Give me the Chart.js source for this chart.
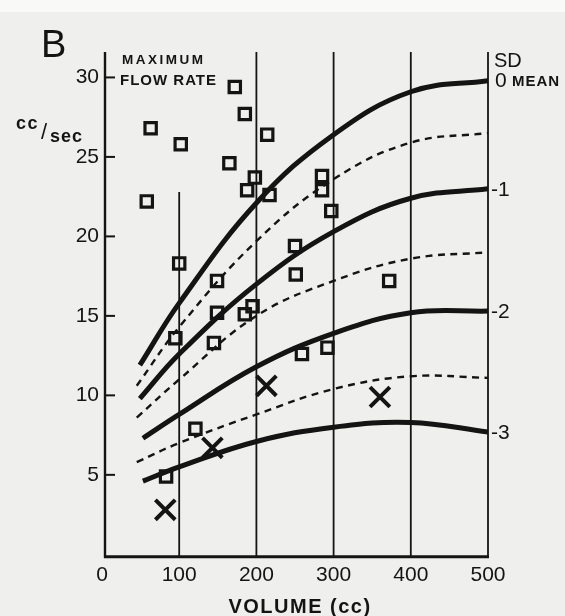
<!DOCTYPE html>
<html>
<head>
<meta charset="utf-8">
<title>Maximum flow rate</title>
<script src="https://cdn.jsdelivr.net/npm/chart.js@4.4.1/dist/chart.umd.min.js"></script>
<style>
  html, body { margin: 0; padding: 0; overflow: hidden; }
  body { background: linear-gradient(#f9f9f8 0, #f9f9f8 12px, #efefed 12px); }
  #wrap { position: relative; width: 565px; height: 616px; }
</style>
</head>
<body>
<div id="wrap"><canvas id="flow"></canvas></div>
<script>
'use strict';

// axes
var xTicks = [0, 100, 200, 300, 400, 500];
var yTicks = [5, 10, 15, 20, 25, 30];
var gridX = [100, 200, 300, 400, 500];
var gridTop = [22.8, 31.6, 31.6, 31.6, 31.6];

// normal curves (SD bands)
var meanX = [49, 100, 200, 300, 400, 500];
var meanY = [11.9, 15.8, 22.1, 26.4, 29.1, 29.8];
var sdHalfX = [45, 100, 200, 300, 400, 500];
var sdHalfY = [10.6, 14.3, 19.7, 23.6, 25.9, 26.5];
var sd1X = [49, 100, 200, 300, 400, 500];
var sd1Y = [9.8, 12.6, 17.0, 20.3, 22.4, 23.0];
var sd15X = [45, 100, 200, 300, 400, 500];
var sd15Y = [8.6, 11.0, 15.0, 17.2, 18.6, 19.0];
var sd2X = [53, 100, 200, 300, 400, 500];
var sd2Y = [7.3, 8.8, 11.8, 13.9, 15.2, 15.3];
var sd25X = [45, 100, 200, 300, 400, 500];
var sd25Y = [5.8, 7.0, 8.8, 10.4, 11.2, 11.1];
var sd3X = [53, 100, 200, 300, 400, 500];
var sd3Y = [4.6, 5.5, 7.1, 8.0, 8.3, 7.7];

// patients
var squareX = [58, 63, 102, 172, 185, 165, 198, 188, 214, 217, 100, 149, 149, 185, 195, 95, 145, 121, 83, 250, 251, 259, 292, 285, 285, 297, 372];
var squareY = [22.2, 26.8, 25.8, 29.4, 27.7, 24.6, 23.7, 22.9, 26.4, 22.6, 18.3, 17.2, 15.2, 15.1, 15.6, 13.6, 13.3, 7.9, 4.9, 19.4, 17.6, 12.6, 13.0, 23.8, 22.9, 21.6, 17.2];
var crossX = [82, 143, 213, 360];
var crossY = [2.8, 6.7, 10.6, 9.9];

var sdLabels = ['-1', '-2', '-3'];

var INK = '#141414';
var FONT = "'Liberation Sans', Arial, sans-serif";

function pts(xs, ys) {
    return xs.map(function(x, i) { return { x: x, y: ys[i] }; });
}

function curve(xs, ys, dashed) {
    return {
        data: pts(xs, ys),
        showLine: true,
        borderColor: INK,
        borderWidth: dashed ? 2.4 : 5,
        borderDash: dashed ? [7, 5.5] : [],
        borderCapStyle: 'butt',
        tension: 0.4,
        pointRadius: 0,
        fill: false
    };
}

var decor = {
    id: 'decor',
    beforeDatasetsDraw: function(chart) {
        var ctx = chart.ctx;
        var xs = chart.scales.x, ys = chart.scales.y;
        var y0 = ys.getPixelForValue(0) + 2.5;
        var yTop = chart.chartArea.top;
        var xAxis = xs.getPixelForValue(0) + 3;
        ctx.save();
        ctx.strokeStyle = INK;
        ctx.lineCap = 'butt';

        // vertical lines
        ctx.lineWidth = 1.8;
        gridX.forEach(function(v, i) {
            var px = xs.getPixelForValue(v);
            ctx.beginPath();
            ctx.moveTo(px, y0);
            ctx.lineTo(px, ys.getPixelForValue(gridTop[i]));
            ctx.stroke();
        });

        // left axis
        ctx.lineWidth = 2.4;
        ctx.beginPath();
        ctx.moveTo(xAxis, y0 + 1);
        ctx.lineTo(xAxis, yTop);
        ctx.stroke();

        // bottom axis
        ctx.lineWidth = 3;
        ctx.beginPath();
        ctx.moveTo(xAxis - 1, y0);
        ctx.lineTo(xs.getPixelForValue(500) + 1, y0);
        ctx.stroke();

        // inward ticks
        ctx.lineWidth = 2;
        yTicks.forEach(function(v) {
            var py = ys.getPixelForValue(v);
            ctx.beginPath();
            ctx.moveTo(xAxis, py);
            ctx.lineTo(xAxis + 10, py);
            ctx.stroke();
        });
        ctx.restore();
    },
    afterDraw: function(chart) {
        var ctx = chart.ctx;
        var ys = chart.scales.y;
        var right = chart.chartArea.right;
        ctx.save();
        ctx.fillStyle = INK;
        ctx.textBaseline = 'alphabetic';
        ctx.textAlign = 'left';

        ctx.font = '38px ' + FONT;
        ctx.fillText('B', 41, 57);

        ctx.font = 'bold 13.5px ' + FONT;
        ctx.letterSpacing = '2.5px';
        ctx.fillText('MAXIMUM', 122, 64);
        ctx.letterSpacing = '1px';
        ctx.font = 'bold 15px ' + FONT;
        ctx.fillText('FLOW RATE', 120, 85);

        // y unit
        ctx.letterSpacing = '1.5px';
        ctx.font = 'bold 18px ' + FONT;
        ctx.fillText('cc', 16, 129);
        ctx.letterSpacing = '0px';
        ctx.font = '22px ' + FONT;
        ctx.fillText('/', 41, 139);
        ctx.letterSpacing = '1px';
        ctx.font = 'bold 18px ' + FONT;
        ctx.fillText('sec', 50, 142);

        // x title
        ctx.font = 'bold 20px ' + FONT;
        ctx.letterSpacing = '1.5px';
        ctx.textAlign = 'center';
        ctx.fillText('VOLUME (cc)', 300, 613);

        // SD labels at the right end of the solid curves
        ctx.textAlign = 'left';
        ctx.letterSpacing = '0px';
        ctx.font = '20px ' + FONT;
        ctx.fillText('SD', 494, 67);
        ctx.textBaseline = 'middle';
        var yMean = ys.getPixelForValue(meanY[meanY.length - 1]);
        ctx.font = '21px ' + FONT;
        ctx.fillText('0', 495, yMean + 1);
        ctx.font = 'bold 15px ' + FONT;
        ctx.letterSpacing = '1px';
        ctx.fillText('MEAN', 512, yMean + 1);
        ctx.letterSpacing = '0px';
        ctx.font = '21px ' + FONT;
        [sd1Y, sd2Y, sd3Y].forEach(function(arr, i) {
            ctx.fillText(sdLabels[i], right + 3, ys.getPixelForValue(arr[arr.length - 1]) + 1);
        });
        ctx.restore();
    }
};

var chart = new Chart(document.getElementById('flow').getContext('2d'), {
    type: 'scatter',
    data: {
        datasets: [
            {
                data: pts(squareX, squareY),
                pointStyle: 'rect',
                pointRadius: 8,
                borderWidth: 3.2,
                borderColor: INK,
                backgroundColor: 'rgba(0,0,0,0)'
            },
            {
                data: pts(crossX, crossY),
                pointStyle: 'crossRot',
                pointRadius: 14,
                borderWidth: 4,
                borderColor: INK
            },
            curve(meanX, meanY, false),
            curve(sdHalfX, sdHalfY, true),
            curve(sd1X, sd1Y, false),
            curve(sd15X, sd15Y, true),
            curve(sd2X, sd2Y, false),
            curve(sd25X, sd25Y, true),
            curve(sd3X, sd3Y, false)
        ]
    },
    options: {
        responsive: true,
        maintainAspectRatio: false,
        animation: false,
        events: [],
        layout: { padding: { left: 0, right: 77, top: 52, bottom: 18.5 } },
        plugins: {
            legend: { display: false },
            tooltip: { enabled: false }
        },
        scales: {
            x: {
                type: 'linear',
                min: 0,
                max: 500,
                afterFit: function(s) { s.height = 40; },
                afterBuildTicks: function(s) { s.ticks = xTicks.map(function(v) { return { value: v }; }); },
                grid: { display: false, drawTicks: false },
                border: { display: false },
                ticks: { color: INK, padding: 5, font: { family: FONT, size: 21 } }
            },
            y: {
                type: 'linear',
                min: -0.2,
                max: 31.6,
                afterFit: function(s) { s.width = 102; },
                afterBuildTicks: function(s) { s.ticks = yTicks.map(function(v) { return { value: v }; }); },
                grid: { display: false, drawTicks: false },
                border: { display: false },
                ticks: { color: INK, padding: 3, font: { family: FONT, size: 21 } }
            }
        }
    },
    plugins: [decor]
});
</script>
</body>
</html>
